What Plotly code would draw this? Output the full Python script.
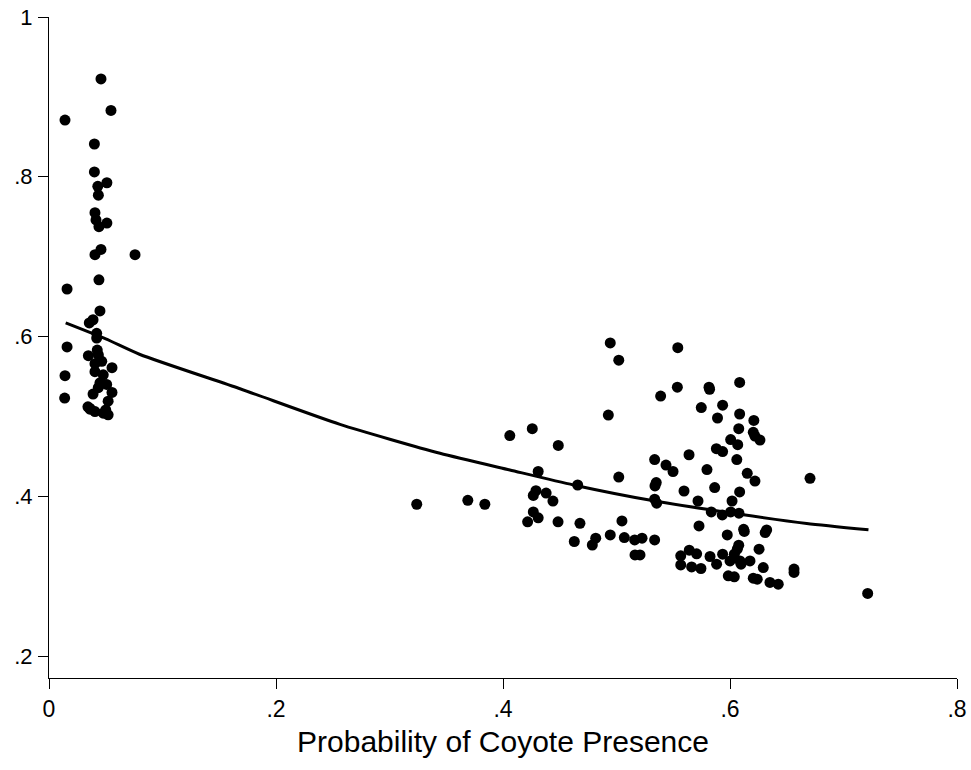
import plotly.graph_objects as go

# Observed points (probability of coyote presence, response)
obs_x = [
    0.0141, 0.0458, 0.0546, 0.0400, 0.0400, 0.0510, 0.0430, 0.0435, 0.0405, 0.0414,
    0.0510, 0.0440, 0.0458, 0.0405, 0.0758, 0.0440, 0.0159, 0.0449, 0.0388, 0.0355,
    0.0420, 0.0420, 0.0159, 0.0425, 0.0347, 0.0435, 0.0465, 0.0555, 0.0405, 0.0141,
    0.0405, 0.0478, 0.0449, 0.0434, 0.0508, 0.0555, 0.0388, 0.0521, 0.0138, 0.0361,
    0.0343, 0.0361, 0.0405, 0.0478, 0.0521, 0.0500,
    0.3240, 0.3690, 0.3840, 0.4060, 0.4258, 0.4487, 0.4310, 0.4290, 0.4267, 0.4380,
    0.4440, 0.4267, 0.4310, 0.4217, 0.4485, 0.4945, 0.5020, 0.5540, 0.6085, 0.5815,
    0.5820, 0.5536, 0.5389, 0.5747, 0.5935, 0.5890, 0.4928, 0.6085, 0.6210, 0.6077,
    0.6205, 0.6220, 0.6264, 0.6006, 0.6068, 0.5880, 0.5935, 0.5639, 0.6060, 0.5336,
    0.5436, 0.5498, 0.5797, 0.6152, 0.6220, 0.6705, 0.5020, 0.5350, 0.5339, 0.5865,
    0.5595, 0.6085, 0.4658, 0.5336, 0.5354, 0.5718, 0.6018, 0.5835, 0.5932, 0.6006,
    0.6079, 0.4678, 0.5048, 0.5727, 0.6120, 0.6126, 0.6323, 0.6310, 0.5976, 0.4945,
    0.5069, 0.4817, 0.4787, 0.4628, 0.5160, 0.5225, 0.5336, 0.6077, 0.6064, 0.6256,
    0.5641, 0.5706, 0.5163, 0.5207, 0.5566, 0.5824, 0.5935, 0.6038, 0.6000, 0.6088,
    0.6176, 0.5882, 0.5566, 0.5662, 0.5744, 0.6097, 0.6293, 0.6564, 0.6564, 0.5985,
    0.6038, 0.6205, 0.6240, 0.6352, 0.6425, 0.7213,
]
obs_y = [
    0.8710, 0.9225, 0.8830, 0.8410, 0.8060, 0.7925, 0.7880, 0.7770, 0.7550, 0.7460,
    0.7420, 0.7375, 0.7090, 0.7025, 0.7025, 0.6710, 0.6595, 0.6320, 0.6210, 0.6170,
    0.6040, 0.5980, 0.5870, 0.5830, 0.5760, 0.5770, 0.5690, 0.5610, 0.5660, 0.5510,
    0.5560, 0.5520, 0.5420, 0.5360, 0.5400, 0.5300, 0.5280, 0.5190, 0.5230, 0.5100,
    0.5120, 0.5090, 0.5060, 0.5040, 0.5020, 0.5080,
    0.3900, 0.3950, 0.3900, 0.4760, 0.4846, 0.4637, 0.4310, 0.4070, 0.4010, 0.4040,
    0.3940, 0.3804, 0.3730, 0.3680, 0.3680, 0.5920, 0.5704, 0.5860, 0.5425, 0.5366,
    0.5340, 0.5366, 0.5254, 0.5110, 0.5140, 0.4980, 0.5016, 0.5030, 0.4950, 0.4846,
    0.4800, 0.4754, 0.4704, 0.4710, 0.4646, 0.4596, 0.4560, 0.4520, 0.4460, 0.4460,
    0.4390, 0.4310, 0.4334, 0.4287, 0.4191, 0.4225, 0.4241, 0.4171, 0.4129, 0.4109,
    0.4066, 0.4054, 0.4141, 0.3963, 0.3913, 0.3941, 0.3941, 0.3804, 0.3766, 0.3804,
    0.3788, 0.3662, 0.3691, 0.3629, 0.3587, 0.3560, 0.3579, 0.3546, 0.3516, 0.3516,
    0.3483, 0.3475, 0.3390, 0.3434, 0.3454, 0.3475, 0.3454, 0.3387, 0.3337, 0.3337,
    0.3325, 0.3279, 0.3266, 0.3266, 0.3254, 0.3246, 0.3275, 0.3275, 0.3191, 0.3191,
    0.3191, 0.3150, 0.3141, 0.3116, 0.3096, 0.3150, 0.3108, 0.3088, 0.3046, 0.3004,
    0.2991, 0.2975, 0.2962, 0.2921, 0.2900, 0.2784,
]

# Fitted curve
fit_x = [0.0147, 0.05, 0.0802, 0.1683, 0.2564, 0.3445, 0.406, 0.462, 0.534, 0.6088, 0.6676, 0.722]
fit_y = [0.617, 0.597, 0.5775, 0.5346, 0.490, 0.4538, 0.4329, 0.4142, 0.394, 0.3775, 0.366, 0.358]

x_ticks = [0, 0.2, 0.4, 0.6, 0.8]
x_ticklabels = ["0", ".2", ".4", ".6", ".8"]
y_ticks = [0.2, 0.4, 0.6, 0.8, 1.0]
y_ticklabels = [".2", ".4", ".6", ".8", "1"]

fig = go.Figure()
fig.add_trace(go.Scatter(
    x=obs_x, y=obs_y, mode="markers",
    marker=dict(color="black", size=11, line=dict(width=0)),
    showlegend=False, hoverinfo="x+y",
))
fig.add_trace(go.Scatter(
    x=fit_x, y=fit_y, mode="lines",
    line=dict(color="black", width=3, shape="spline", smoothing=0.6),
    showlegend=False,
))

fig.update_layout(
    width=971, height=770,
    margin=dict(l=49, r=14, t=17, b=92),
    paper_bgcolor="white", plot_bgcolor="white",
    font=dict(family="Liberation Sans, Arial, sans-serif", color="black", size=22),
    xaxis=dict(
        range=[0, 0.8], tickmode="array", tickvals=x_ticks, ticktext=x_ticklabels,
        showgrid=False, zeroline=False, showline=True, linecolor="black", linewidth=1,
        ticks="outside", ticklen=10, tickcolor="black", tickwidth=1,
        tickfont=dict(size=23), automargin=False, ticklabelstandoff=0,
        title=dict(text="Probability of Coyote Presence", font=dict(size=30), standoff=10),
    ),
    yaxis=dict(
        range=[0.1725, 1.0], tickmode="array", tickvals=y_ticks, ticktext=y_ticklabels,
        showgrid=False, zeroline=False, showline=True, linecolor="black", linewidth=1,
        ticks="outside", ticklen=10, tickcolor="black", tickwidth=1,
        tickfont=dict(size=22), automargin=False, ticklabelstandoff=1,
    ),
)

fig.write_html("out.html")
